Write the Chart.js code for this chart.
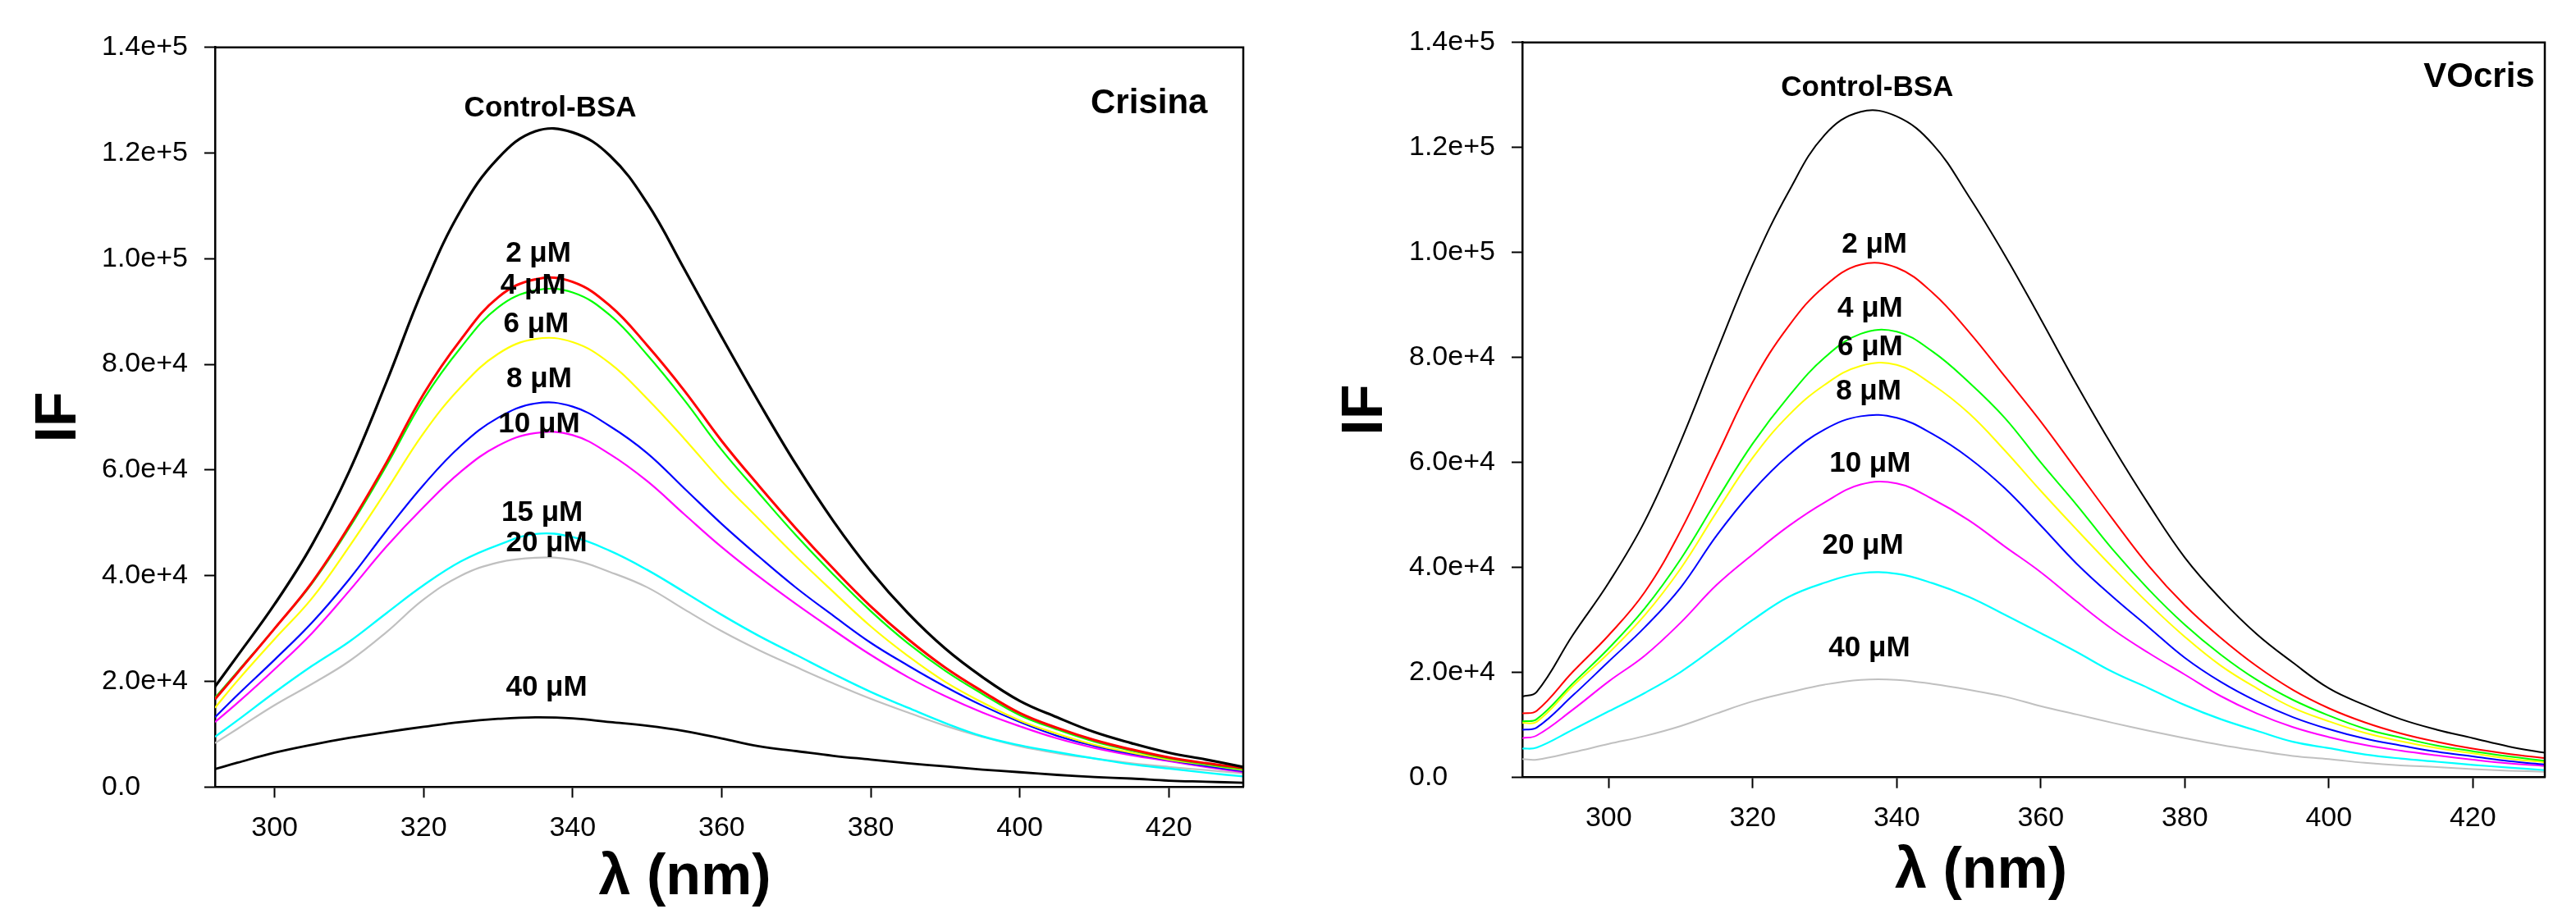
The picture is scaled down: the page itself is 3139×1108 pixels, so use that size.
<!DOCTYPE html>
<html>
<head>
<meta charset="utf-8">
<title>BSA fluorescence quenching</title>
<script src="https://cdn.jsdelivr.net/npm/chart.js@4.4.1/dist/chart.umd.min.js"></script>
<style>
  html, body { margin: 0; padding: 0; background: #fff; }
  #wrap { position: relative; width: 3139px; height: 1108px; }
  canvas { position: absolute; top: 0; }
  #crisinaChart { left: 0; }
  #vocrisChart { left: 1570px; }
</style>
</head>
<body>
<div id="wrap">
  <canvas id="crisinaChart" width="1570" height="1108"></canvas>
  <canvas id="vocrisChart" width="1569" height="1108"></canvas>
</div>
<script>
"use strict";

// Wavelengths (nm)
const crisinaNm = [292, 295, 300, 305, 310, 315, 320, 325, 330, 335, 340, 345, 350, 355, 360,
  365, 370, 375, 380, 385, 390, 395, 400, 405, 410, 415, 420, 425, 430];
const vocrisNm = [288, 290, 295, 300, 305, 310, 315, 320, 325, 330, 335, 340, 345, 350, 355, 360,
  365, 370, 375, 380, 385, 390, 395, 400, 405, 410, 415, 420, 425, 430];

// Crisina series, intensity in thousands
const crisinaControl = [19.0, 24.8, 34.6, 45.8, 59.7, 76.6, 94.5, 109.2, 119.0, 124.1, 123.9, 119.5, 110.5, 98.0, 85.2,
  72.8, 61.0, 50.3, 40.9, 32.9, 26.2, 20.8, 16.3, 13.2, 10.4, 8.3, 6.5, 5.2, 3.8];
const crisina2 = [16.6, 21.6, 30.0, 38.7, 49.4, 61.4, 74.4, 84.7, 92.7, 96.1, 95.6, 91.1, 83.6, 75.0, 65.5,
  57.0, 48.9, 41.3, 34.2, 28.0, 22.6, 18.1, 14.0, 11.2, 8.9, 7.1, 5.6, 4.5, 3.6];
const crisina4 = [16.9, 21.8, 30.0, 38.5, 49.0, 60.8, 73.4, 83.2, 90.8, 94.0, 93.6, 89.3, 81.8, 73.2, 63.8,
  55.6, 47.6, 40.2, 33.3, 27.2, 22.0, 17.6, 13.6, 10.9, 8.6, 6.9, 5.4, 4.3, 3.4];
const crisina6 = [15.0, 20.1, 28.0, 35.7, 45.5, 56.1, 67.0, 75.7, 82.0, 84.8, 84.2, 80.2, 73.5, 65.9, 57.9,
  50.7, 43.6, 36.9, 30.4, 24.8, 19.9, 16.0, 12.6, 10.1, 8.0, 6.5, 5.2, 4.2, 3.2];
const crisina8 = [13.2, 17.4, 24.1, 31.1, 39.3, 48.5, 57.2, 64.6, 69.9, 72.6, 72.0, 68.3, 63.2, 56.5, 49.8,
  43.6, 37.7, 32.4, 27.3, 23.0, 19.0, 15.4, 12.3, 9.7, 7.8, 6.3, 5.1, 4.0, 3.0];
const crisina10 = [12.3, 15.9, 22.3, 29.1, 37.1, 45.5, 53.0, 59.7, 64.6, 67.0, 66.6, 63.0, 57.9, 51.6, 45.4,
  39.8, 34.6, 29.7, 25.0, 20.8, 17.2, 14.1, 11.5, 9.2, 7.4, 6.0, 4.9, 3.8, 2.8];
const crisina15 = [9.5, 12.6, 17.9, 22.9, 27.5, 32.9, 38.2, 42.7, 45.8, 47.9, 47.3, 44.7, 41.1, 36.9, 32.6,
  28.6, 25.0, 21.4, 18.0, 15.0, 12.1, 9.6, 7.9, 6.6, 5.4, 4.3, 3.5, 2.7, 2.0];
const crisina20 = [8.3, 11.0, 15.5, 19.5, 23.8, 29.3, 35.5, 40.0, 42.5, 43.4, 43.0, 40.7, 37.8, 33.6, 29.5,
  25.9, 22.7, 19.6, 16.7, 14.1, 11.6, 9.5, 7.7, 6.4, 5.4, 4.5, 3.8, 3.2, 2.6];
const crisina40 = [3.4, 4.6, 6.5, 8.0, 9.3, 10.4, 11.4, 12.3, 12.9, 13.2, 13.0, 12.3, 11.6, 10.6, 9.2,
  7.7, 6.8, 5.9, 5.2, 4.5, 3.9, 3.3, 2.8, 2.3, 1.9, 1.6, 1.2, 1.0, 0.8];

// VOcris series, intensity in thousands
const vocrisControl = [15.4, 16.3, 27.1, 37.1, 48.8, 64.0, 81.1, 97.7, 111.6, 122.4, 126.8, 125.9, 120.6, 110.7, 99.5, 87.3,
  74.8, 63.0, 52.0, 41.9, 34.0, 27.3, 21.9, 17.0, 13.8, 11.1, 9.1, 7.5, 5.9, 4.7];
const vocris2 = [12.2, 12.7, 20.1, 27.1, 35.3, 47.0, 61.2, 75.3, 86.0, 93.6, 97.7, 97.1, 92.3, 84.9, 76.4, 67.8,
  58.5, 49.2, 40.3, 32.8, 26.6, 21.2, 16.7, 13.2, 10.5, 8.4, 6.8, 5.5, 4.5, 3.7];
const vocris4 = [10.7, 11.1, 17.9, 24.6, 32.2, 41.6, 52.8, 63.6, 72.6, 80.0, 84.5, 84.9, 81.1, 75.3, 68.5, 60.0,
  51.9, 43.4, 35.8, 29.1, 23.4, 18.6, 14.8, 11.8, 9.3, 7.6, 6.1, 5.0, 4.0, 3.2];
const vocris6 = [10.4, 10.6, 17.4, 23.7, 30.9, 39.8, 50.6, 60.9, 69.0, 74.8, 78.4, 78.6, 74.8, 69.4, 62.3, 54.6,
  47.2, 40.0, 33.1, 26.8, 21.3, 17.0, 13.3, 10.7, 8.5, 6.9, 5.6, 4.6, 3.6, 2.9];
const vocris8 = [9.1, 9.5, 15.6, 22.1, 28.6, 36.2, 46.1, 54.6, 61.4, 66.3, 68.8, 68.5, 65.4, 60.9, 55.1, 48.0,
  40.7, 34.4, 28.6, 22.8, 18.2, 14.5, 11.5, 9.2, 7.4, 6.1, 4.9, 4.0, 3.1, 2.5];
const vocris10 = [7.5, 8.0, 12.9, 18.3, 23.2, 29.5, 36.7, 42.5, 47.9, 52.4, 55.8, 56.0, 53.0, 49.0, 44.0, 39.1,
  33.5, 28.2, 23.7, 19.6, 15.5, 12.2, 9.6, 7.7, 6.2, 5.1, 4.2, 3.4, 2.7, 2.2];
const vocris20 = [5.5, 5.7, 9.1, 12.6, 16.1, 20.1, 25.0, 30.0, 34.4, 37.1, 38.9, 38.8, 37.0, 34.4, 31.0, 27.5,
  23.9, 20.1, 17.0, 13.8, 11.1, 8.9, 6.8, 5.6, 4.4, 3.6, 3.0, 2.4, 1.9, 1.4];
const vocris40 = [3.5, 3.4, 4.8, 6.4, 7.9, 9.8, 12.2, 14.5, 16.2, 17.7, 18.6, 18.6, 17.8, 16.7, 15.4, 13.6,
  12.0, 10.4, 8.9, 7.5, 6.2, 5.1, 4.1, 3.5, 2.8, 2.3, 2.0, 1.6, 1.3, 1.1];

// Curve names
const crisinaLabels = ["Control-BSA", "2 μM", "4 μM", "6 μM", "8 μM", "10 μM", "15 μM", "20 μM", "40 μM"];
const vocrisLabels = ["Control-BSA", "2 μM", "4 μM", "6 μM", "8 μM", "10 μM", "20 μM", "40 μM"];

// Axis ticks
const xTickValues = [300, 320, 340, 360, 380, 400, 420];
const yTickValues = [0, 20000, 40000, 60000, 80000, 100000, 120000, 140000];
const yTickLabels = ["0.0", "2.0e+4", "4.0e+4", "6.0e+4", "8.0e+4", "1.0e+5", "1.2e+5", "1.4e+5"];

const FONT = "'Liberation Sans', Arial, Helvetica, sans-serif";
Chart.defaults.font.family = FONT;
Chart.defaults.color = "#000";

// Frame, curve names, panel name and axis titles
const decorations = {
    id: "decorations",
    afterDraw(chart, args, opts) {
        const { ctx, chartArea: a, scales: { x, y } } = chart;
        ctx.save();
        ctx.strokeStyle = "#000";
        ctx.lineWidth = 2.5;
        ctx.beginPath();
        ctx.moveTo(a.left, a.top);
        ctx.lineTo(a.right, a.top);
        ctx.lineTo(a.right, a.bottom);
        ctx.stroke();

        ctx.fillStyle = "#000";
        ctx.textBaseline = "middle";
        ctx.textAlign = "center";
        ctx.font = "bold 35px " + FONT;
        opts.names.forEach((name, i) => {
            const p = opts.spots[i];
            ctx.fillText(name, x.getPixelForValue(p[0]), y.getPixelForValue(p[1]));
        });

        ctx.textAlign = "right";
        ctx.font = "bold 42px " + FONT;
        ctx.fillText(opts.panel, x.getPixelForValue(opts.panelSpot[0]), y.getPixelForValue(opts.panelSpot[1]));

        ctx.textAlign = "center";
        ctx.font = "bold 70px " + FONT;
        ctx.fillText("λ (nm)", (a.left + a.right) / 2 + opts.xTitleShift, a.bottom + opts.xTitleDrop);
        ctx.translate(a.left - opts.yTitleGap, (a.top + a.bottom) / 2);
        ctx.rotate(-Math.PI / 2);
        ctx.fillText("IF", 0, 0);
        ctx.restore();
    }
};

function makeDatasets(nm, series, colors, widths) {
    return series.map((values, i) => ({
        data: values.map((v, j) => ({ x: nm[j], y: v * 1000 })),
        borderColor: colors[i],
        borderWidth: widths[i],
        pointRadius: 0,
        fill: false,
        tension: 0.4
    }));
}

function makeScales(xMin, yWidth, xHeight) {
    const grid = { drawOnChartArea: false, drawTicks: true, tickLength: 13, tickWidth: 2, tickColor: "#000" };
    const border = { display: true, color: "#000", width: 2.5 };
    return {
        x: {
            type: "linear",
            min: xMin,
            max: 430,
            afterBuildTicks: s => { s.ticks = xTickValues.map(v => ({ value: v })); },
            ticks: { font: { size: 34 }, padding: 17, maxRotation: 0, autoSkip: false, callback: v => String(v) },
            grid: grid,
            border: border,
            afterFit: s => { s.height = xHeight; }
        },
        y: {
            type: "linear",
            min: 0,
            max: 140000,
            afterBuildTicks: s => { s.ticks = yTickValues.map(v => ({ value: v })); },
            ticks: { font: { size: 34 }, padding: 19, crossAlign: "far", callback: (v, i) => yTickLabels[i] },
            grid: grid,
            border: border,
            afterFit: s => { s.width = yWidth; }
        }
    };
}

// Crisina panel
new Chart(document.getElementById("crisinaChart"), {
    type: "line",
    data: {
        datasets: makeDatasets(crisinaNm,
            [crisinaControl, crisina2, crisina4, crisina6, crisina8, crisina10, crisina15, crisina20, crisina40],
            ["#000000", "#ff0000", "#00ff00", "#ffff00", "#0000ff", "#ff00ff", "#00ffff", "#c0c0c0", "#000000"],
            [3.2, 3, 2.2, 2.2, 2.2, 2.2, 2.4, 2.2, 2.8])
    },
    options: {
        responsive: false,
        animation: false,
        layout: { padding: { left: 124, right: 55, top: 57.7, bottom: 0 } },
        scales: makeScales(292, 138, 148.7),
        plugins: {
            legend: { display: false },
            tooltip: { enabled: false },
            decorations: {
                names: crisinaLabels,
                spots: [[337.0, 128400], [335.4, 100900], [334.7, 94900], [335.1, 87600], [335.5, 77100],
                    [335.5, 68600], [335.9, 51800], [336.5, 46100], [336.5, 18800]],
                panel: "Crisina",
                panelSpot: [425.2, 129400],
                xTitleShift: -54,
                xTitleDrop: 111,
                yTitleGap: 189
            }
        }
    },
    plugins: [decorations]
});

// VOcris panel
new Chart(document.getElementById("vocrisChart"), {
    type: "line",
    data: {
        datasets: makeDatasets(vocrisNm,
            [vocrisControl, vocris2, vocris4, vocris6, vocris8, vocris10, vocris20, vocris40],
            ["#000000", "#ff0000", "#00ff00", "#ffff00", "#0000ff", "#ff00ff", "#00ffff", "#c0c0c0"],
            [2, 2, 2, 2, 2, 2, 2.2, 2])
    },
    options: {
        responsive: false,
        animation: false,
        layout: { padding: { left: 147, right: 38, top: 51.7, bottom: 0 } },
        scales: makeScales(288, 138, 160.3),
        plugins: {
            legend: { display: false },
            tooltip: { enabled: false },
            decorations: {
                names: vocrisLabels,
                spots: [[335.9, 131300], [336.9, 101500], [336.3, 89300], [336.3, 82000], [336.1, 73500],
                    [336.3, 59700], [335.3, 44100], [336.2, 24600]],
                panel: "VOcris",
                panelSpot: [428.6, 133400],
                xTitleShift: -64,
                xTitleDrop: 115,
                yTitleGap: 190
            }
        }
    },
    plugins: [decorations]
});
</script>
</body>
</html>
